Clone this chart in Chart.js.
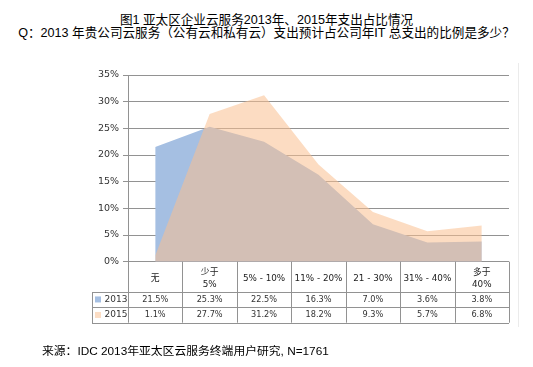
<!DOCTYPE html>
<html>
<head>
<meta charset="utf-8">
<script src="https://cdn.jsdelivr.net/npm/chart.js@4/dist/chart.umd.min.js"></script>
<style>
  body { margin: 0; background: #fff; width: 533px; height: 367px; overflow: hidden; position: relative; }
  .title { position: absolute; left: 0; width: 533px; top: 14px; text-align: center; font-family: "Liberation Sans", "Noto Sans CJK SC", sans-serif; font-size: 12.6px; line-height: 12.6px; color: #000; }
  .source { position: absolute; left: 42px; top: 345px; font-family: "Liberation Sans", "Noto Sans CJK SC", sans-serif; font-size: 11.8px; line-height: 13px; color: #000; }
  .frame { position: absolute; left: 518px; top: 63px; width: 1px; height: 264px; background: #ebebeb; }
  #wrap { position: absolute; left: 0; top: 0; width: 533px; height: 367px; }
</style>
</head>
<body>
<div class="title">图1 亚太区企业云服务2013年、2015年支出占比情况<br>Q：2013 年贵公司云服务（公有云和私有云）支出预计占公司年IT 总支出的比例是多少？</div>
<div class="frame"></div>
<div id="wrap"><canvas id="my-chart"></canvas></div>
<div class="source">来源：IDC 2013年亚太区云服务终端用户研究, N=1761</div>
<script>
const categories = ["无", ["少于", "5%"], "5% - 10%", "11% - 20%", "21 - 30%", "31% - 40%", ["多于", "40%"]];
const seriesNames = ["2013", "2015"];
const values2013 = [21.5, 25.3, 22.5, 16.3, 7.0, 3.6, 3.8];
const values2015 = [1.1, 27.7, 31.2, 18.2, 9.3, 5.7, 6.8];
const yTicks = [0, 5, 10, 15, 20, 25, 30, 35];

const blue = "rgb(165, 191, 226)";
const peach = "rgba(250, 192, 143, 0.55)";
const peachKey = "rgb(252, 221, 196)";
const lineGray = "#929292";
const tableFont = '8.2px "DejaVu Sans", "Noto Sans CJK SC", sans-serif';

// table below the plot: row lines, legend keys and values
const dataTable = {
  id: "dataTable",
  afterDraw(chart) {
    const ctx = chart.ctx;
    const x = chart.scales.x;
    const area = chart.chartArea;
    const colW = x.getPixelForValue(1) - x.getPixelForValue(0);
    const left = x.getPixelForValue(0) - colW / 2;
    const right = left + colW * categories.length;
    const headerBottom = area.bottom + 30;
    const rowH = 15.5;
    const tableBottom = headerBottom + rowH * 2;
    const keyLeft = 92;

    ctx.save();
    ctx.strokeStyle = lineGray;
    ctx.lineWidth = 1;
    ctx.beginPath();
    for (let i = 0; i <= categories.length; i++) {
      const px = Math.round(left + i * colW) + 0.5;
      ctx.moveTo(px, area.bottom);
      ctx.lineTo(px, tableBottom);
    }
    [headerBottom, headerBottom + rowH, tableBottom].forEach(py => {
      const y = Math.round(py) + 0.5;
      ctx.moveTo(keyLeft, y);
      ctx.lineTo(right, y);
    });
    ctx.moveTo(keyLeft + 0.5, Math.round(headerBottom));
    ctx.lineTo(keyLeft + 0.5, Math.round(tableBottom) + 0.5);
    ctx.stroke();

    const rows = [values2013, values2015];
    const keys = [blue, peachKey];
    ctx.textBaseline = "middle";
    rows.forEach((vals, r) => {
      const cy = headerBottom + rowH * r + rowH / 2;
      ctx.fillStyle = keys[r];
      ctx.fillRect(keyLeft + 3, cy - 3, 6, 6);
      ctx.fillStyle = "#333";
      ctx.font = '9px "DejaVu Sans", sans-serif';
      ctx.textAlign = "center";
      ctx.fillText(seriesNames[r], keyLeft + 24, cy);
      ctx.font = tableFont;
      vals.forEach((v, i) => {
        ctx.fillText(v.toFixed(1) + "%", x.getPixelForValue(i), cy);
      });
    });
    ctx.restore();
  }
};

const ctx = document.getElementById("my-chart").getContext("2d");
const chart = new Chart(ctx, {
  type: "line",
  data: {
    labels: categories,
    datasets: [
      {
        label: seriesNames[1],
        data: values2015,
        backgroundColor: peach,
        borderWidth: 0,
        pointRadius: 0,
        fill: "origin",
        order: 0
      },
      {
        label: seriesNames[0],
        data: values2013,
        backgroundColor: blue,
        borderWidth: 0,
        pointRadius: 0,
        fill: "origin",
        order: 1
      }
    ]
  },
  options: {
    responsive: true,
    maintainAspectRatio: false,
    animation: false,
    layout: { padding: { left: 0, top: 75, right: 24, bottom: 44 } },
    plugins: {
      legend: { display: false },
      tooltip: { enabled: false }
    },
    scales: {
      x: {
        offset: true,
        grid: { display: false },
        border: { display: false },
        ticks: {
          color: "#222",
          font: { family: '"DejaVu Sans", "Noto Sans CJK SC", sans-serif', size: 8.8, lineHeight: 1.4 },
          maxRotation: 0,
          autoSkip: false,
          padding: 3,
          crossAlign: "center"
        },
        afterFit: s => { s.height = 61.3; }
      },
      y: {
        min: 0,
        max: 35,
        afterBuildTicks: s => { s.ticks = yTicks.map(v => ({ value: v })); },
        grid: { color: lineGray, tickLength: 5 },
        border: { color: lineGray },
        ticks: {
          color: "#333",
          font: { family: '"DejaVu Sans", sans-serif', size: 9.5 },
          padding: 4,
          callback: v => v + "%"
        },
        afterFit: s => { s.width = 128; }
      }
    }
  },
  plugins: [dataTable]
});
</script>
</body>
</html>
